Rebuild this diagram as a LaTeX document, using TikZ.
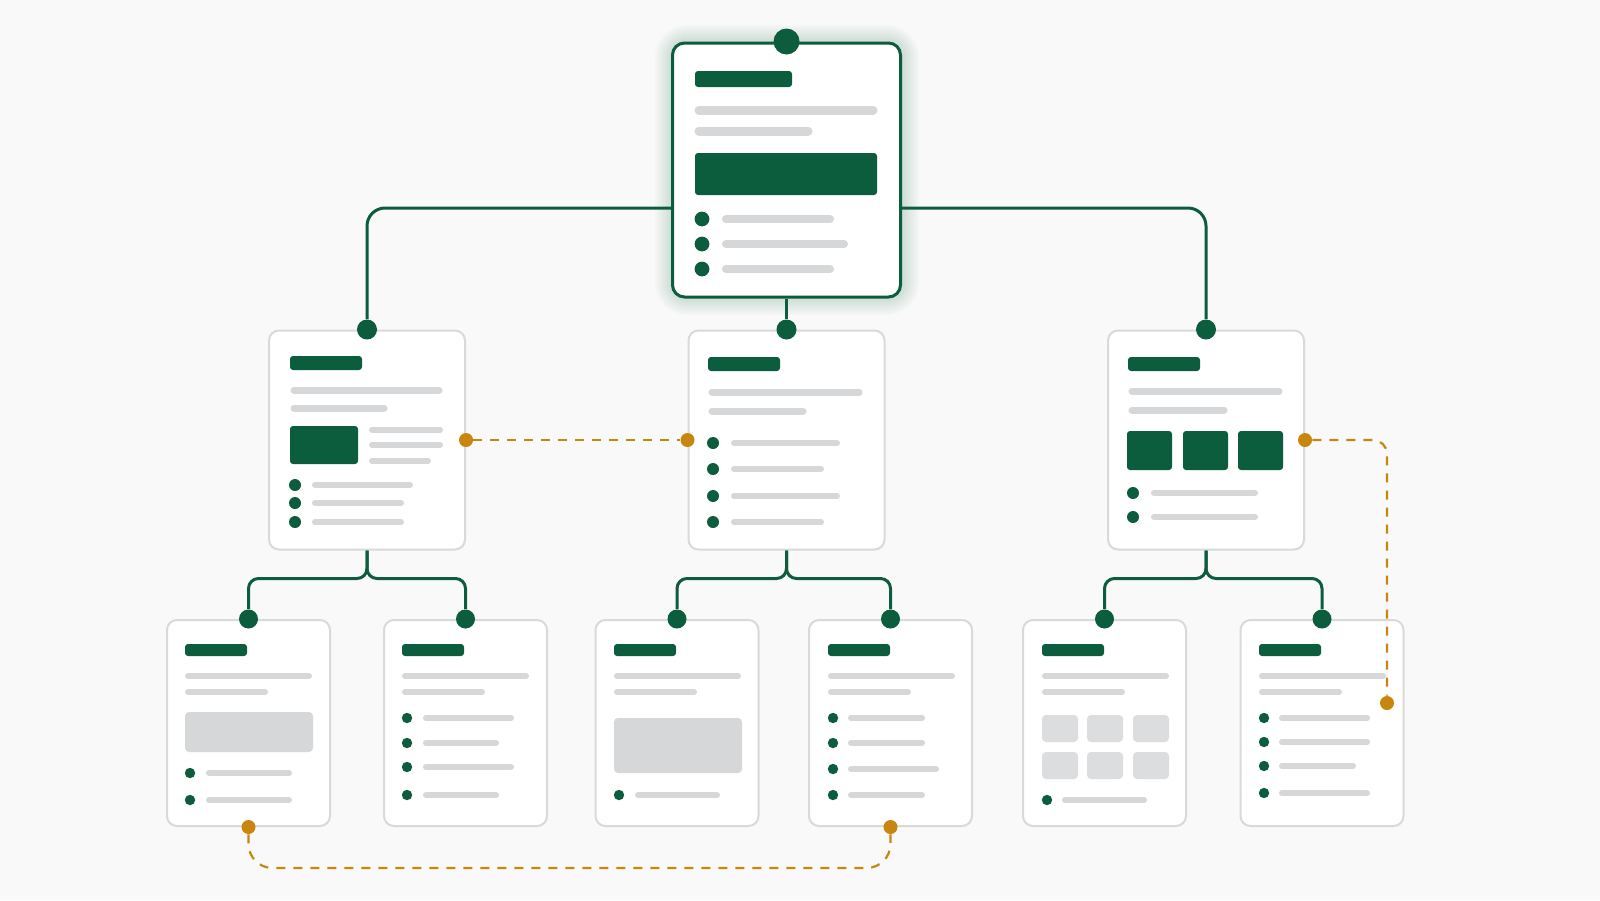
\documentclass[tikz,border=0pt]{standalone}
\usepackage{tikz}
\usetikzlibrary{positioning}
\definecolor{TreeGreen}{HTML}{0C5C3E}
\definecolor{LinkOrange}{HTML}{C8860F}
\definecolor{BarGray}{HTML}{D6D7D9}
\definecolor{EdgeGray}{HTML}{D9D9D9}
\definecolor{PageBg}{HTML}{F9F9F9}

\begin{document}
\begin{tikzpicture}[x=0.5pt, y=-0.5pt, card/.style={draw=EdgeGray, line width=1pt, rounded corners=5pt, fill=white, inner sep=0pt}, gdot/.style={circle, fill=TreeGreen, inner sep=0pt, minimum size=#1}, gdot/.default=10pt, odot/.style={circle, fill=LinkOrange, inner sep=0pt, minimum size=7pt}, tlink/.style={draw=TreeGreen, line width=1.5pt, rounded corners=#1}, tlink/.default=5pt, olink/.style={draw=LinkOrange, line width=1.1pt, dash pattern=on 4.5pt off 4pt, rounded corners=#1}, olink/.default=12pt, hd/.style={fill=TreeGreen, rounded corners=1.5pt}, gl/.style={draw=BarGray, line width=#1, line cap=round}, gl/.default=3.5pt, blk/.style={fill=BarGray, rounded corners=2pt}, bul/.style={fill=TreeGreen}]
\useasboundingbox (0,0) rectangle (1600,900);
\fill[PageBg] (0,0) rectangle (1600,900);

% soft glow round the root card
\foreach \w in {2,4,...,18}
  \draw[TreeGreen, opacity=0.018, line width=\w pt, rounded corners=7pt] (673,43) rectangle (901,297);

% cards
\node[card, draw=TreeGreen, line width=1.5pt, rounded corners=6pt, minimum width=114pt, minimum height=127pt] (root) at (786.5,170) {};
\node[card, minimum width=98pt, minimum height=109.5pt] (mA) at (367,440) {};
\node[card, minimum width=98pt, minimum height=109.5pt] (mB) at (786.5,440) {};
\node[card, minimum width=98pt, minimum height=109.5pt] (mC) at (1206,440) {};
\foreach \n/\x in {bA/248.5,bB/465.5,bC/677,bD/890.5,bE/1104.5,bF/1322}
  \node[card, minimum width=81.5pt, minimum height=103pt] (\n) at (\x,723) {};

% root content
\fill[hd] (695,71) rectangle (792,87);
\draw[gl=4.5pt] (699,110) -- (873,110);
\draw[gl=4.5pt] (699,131) -- (808,131);
\fill[hd] (695,153) rectangle (877,195);
\foreach \y/\e in {219/834,244/848,269/834} {
  \fill[bul] (702,\y) circle (3.7pt);
  \draw[gl=4pt] (726,\y) -- (\e-4,\y);
}

% middle row content
\fill[hd] (290,356) rectangle (362,370);
\draw[gl] (294,390) -- (439,390);
\draw[gl] (294,408) -- (384,408);
\fill[hd] (290,426) rectangle (358,464);
\foreach \y/\e in {430/443,445/443,461/431}
  \draw[gl=3pt] (372,\y) -- (\e-3,\y);
\foreach \y/\e in {485/413,503/404,522/404} {
  \fill[bul] (295,\y) circle (3pt);
  \draw[gl=3pt] (315,\y) -- (\e-3,\y);
}

\fill[hd] (708,357) rectangle (780,371);
\draw[gl] (712,392) -- (859,392);
\draw[gl] (712,411) -- (803,411);
\foreach \y/\e in {443/840,469/824,496/840,522/824} {
  \fill[bul] (713,\y) circle (3pt);
  \draw[gl=3pt] (734,\y) -- (\e-3,\y);
}

\fill[hd] (1128,357) rectangle (1200,371);
\draw[gl] (1132,391) -- (1279,391);
\draw[gl] (1132,410) -- (1224,410);
\foreach \x in {1127,1183,1238}
  \fill[hd] (\x,431) rectangle (\x+45,470);
\foreach \y in {493,517} {
  \fill[bul] (1133,\y) circle (3pt);
  \draw[gl=3pt] (1154,\y) -- (1255,\y);
}

% bottom row content
\foreach \x in {185,402,614,828,1042,1259} {
  \fill[hd] (\x,644) rectangle (\x+62,656);
  \draw[gl=3pt] (\x+3,676) -- (\x+124,676);
  \draw[gl=3pt] (\x+3,692) -- (\x+80,692);
}
\fill[blk] (185,712) rectangle (313,752);
\foreach \y in {773,800} {
  \fill[bul] (190,\y) circle (2.6pt);
  \draw[gl=3pt] (209,\y) -- (289,\y);
}
\foreach \y/\e in {718/514,743/499,767/514,795/499} {
  \fill[bul] (407,\y) circle (2.6pt);
  \draw[gl=3pt] (426,\y) -- (\e-3,\y);
}
\fill[blk] (614,718) rectangle (742,773);
\fill[bul] (619,795) circle (2.6pt);
\draw[gl=3pt] (638,795) -- (717,795);
\foreach \y/\e in {718/925,743/925,769/939,795/925} {
  \fill[bul] (833,\y) circle (2.6pt);
  \draw[gl=3pt] (851,\y) -- (\e-3,\y);
}
\foreach \x in {1042,1087,1133}
  \foreach \y in {715,752}
    \fill[blk, fill=BarGray!85] (\x,\y) rectangle (\x+36,\y+27);
\fill[bul] (1047,800) circle (2.6pt);
\draw[gl=3pt] (1065,800) -- (1144,800);
\foreach \y/\e in {718/1370,742/1370,766/1356,793/1370} {
  \fill[bul] (1264,\y) circle (2.6pt);
  \draw[gl=3pt] (1282,\y) -- (\e-3,\y);
}

% connector dots
\node[gdot=13pt] (dR) at (root.north) {};
\foreach \n in {mA,mB,mC}
  \node[gdot] (d\n) at (\n.north) {};
\foreach \n in {bA,bB,bC,bD,bE,bF}
  \node[gdot=9.5pt] (d\n) at (\n.north) {};
\node[odot] (oA) at (mA.east) {};
\node[odot] (oB) at (mB.west) {};
\node[odot] (oC) at (mC.east) {};
\node[odot] (oD) at (1387,703) {};
\node[odot] (oE) at (bA.south) {};
\node[odot] (oF) at (bD.south) {};

% tree links
\draw[tlink=9pt] ([yshift=-19pt]root.west) -| (dmA);
\draw[tlink=9pt] ([yshift=-19pt]root.east) -| (dmC);
\draw[tlink] (root.south) -- (dmB);
\draw[tlink] (mA.south) -- ++(0,28) -| (dbA);
\draw[tlink] (mA.south) -- ++(0,28) -| (dbB);
\draw[tlink] (mB.south) -- ++(0,28) -| (dbC);
\draw[tlink] (mB.south) -- ++(0,28) -| (dbD);
\draw[tlink] (mC.south) -- ++(0,28) -| (dbE);
\draw[tlink] (mC.south) -- ++(0,28) -| (dbF);

% cross links
\draw[olink] (oA) -- (oB);
\draw[olink=7pt] (oC) -| (oD);
\draw[olink] (oE) -- ++(0,41) -| (oF);
\end{tikzpicture}
\end{document}
